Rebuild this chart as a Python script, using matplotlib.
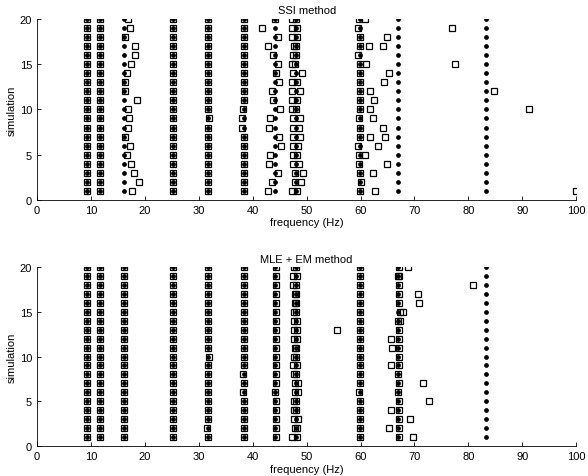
import numpy as np
import matplotlib
matplotlib.use("Agg")
import matplotlib.pyplot as plt

plt.rcParams["font.family"] = ["Liberation Sans", "DejaVu Sans"]

sims = np.arange(1, 21)

# true modal frequencies (dots), identical for every simulation
true_freqs = [9.3, 11.6, 16.1, 25.3, 31.7, 38.3, 44.2, 48.0, 59.9, 67.0, 83.3]

# ---- SSI estimates, one value per simulation (sim 1..20) ----
ssi_c1 = [9.3, 9.3, 9.3, 9.3, 9.3, 9.3, 9.3, 9.3, 9.3, 9.3,
          9.3, 9.3, 9.3, 9.3, 9.3, 9.3, 9.3, 9.3, 9.3, 9.3]
ssi_c2 = [11.6, 11.6, 11.6, 11.6, 11.6, 11.6, 11.6, 11.6, 11.7, 11.6,
          11.6, 11.6, 11.6, 11.6, 11.6, 11.6, 11.6, 11.6, 11.6, 11.6]
ssi_c3 = [17.7, 18.9, 17.9, 17.4, 16.7, 17.2, 16.4, 16.9, 17.1, 16.9,
          18.6, 16.3, 16.3, 16.7, 17.5, 18.2, 18.1, 16.3, 17.3, 16.9]
ssi_c4 = [25.3, 25.3, 25.3, 25.3, 25.3, 25.3, 25.3, 25.3, 25.3, 25.3,
          25.3, 25.3, 25.3, 25.3, 25.3, 25.3, 25.3, 25.3, 25.3, 25.3]
ssi_c5 = [31.7, 31.7, 31.7, 31.7, 31.7, 31.7, 31.7, 31.7, 31.8, 31.7,
          31.7, 31.7, 31.7, 31.7, 31.7, 31.7, 31.7, 31.7, 31.7, 31.7]
ssi_c6 = [38.3, 38.4, 38.3, 38.3, 38.3, 38.3, 38.3, 38.0, 38.0, 38.2,
          38.3, 38.3, 38.3, 38.3, 38.3, 38.3, 38.3, 38.3, 38.3, 38.3]
ssi_c7 = [42.8, 43.5, 44.6, 43.0, 43.2, 45.3, 44.9, 43.0, 43.2, 45.1,
          43.7, 43.5, 44.9, 44.3, 44.7, 43.7, 42.8, 44.6, 41.7, 44.2]
ssi_c8a = [47.26, 47.75, 47.87, 47.44, 47.44, 47.44, 47.56, 47.44, 47.44, 47.26,
           47.3, 47.26, 47.26, 47.56, 47.26, 47.44, 47.69, 47.26, 47.26, 47.26]
ssi_c8b = [48.18, 48.93, 49.3, 48.49, 48.18, 48.31, 48.68, 48.49, 48.68, 48.06,
           48.18, 48.68, 48.18, 49.11, 47.87, 48.06, 48.0, 48.18, 48.18, 48.06]
ssi_c9 = [59.9, 60.0, 59.9, 59.8, 59.75, 59.6, 59.9, 59.9, 59.8, 59.9,
          59.9, 59.9, 59.9, 59.9, 59.9, 59.6, 59.9, 59.9, 59.6, 59.8]
# spurious SSI estimates: (simulation, frequency)
ssi_extra_sim = [20, 19, 18, 17, 17, 15, 15, 14, 13, 12, 12, 11, 10, 10,
                 9, 8, 7, 7, 6, 5, 4, 3, 1, 1]
ssi_extra_freq = [60.9, 77.0, 64.9, 61.5, 64.1, 61.1, 77.6, 65.2, 64.3, 61.8, 84.7, 62.4, 61.7, 91.3,
                  62.3, 64.2, 61.7, 64.5, 63.2, 60.9, 64.9, 62.3, 62.6, 100.0]

# ---- MLE + EM estimates ----
mle_c1 = [9.3, 9.3, 9.3, 9.3, 9.3, 9.3, 9.3, 9.3, 9.3, 9.3,
          9.3, 9.3, 9.3, 9.3, 9.3, 9.3, 9.3, 9.3, 9.3, 9.3]
mle_c2 = [11.6, 11.6, 11.6, 11.6, 11.6, 11.6, 11.6, 11.6, 11.6, 11.6,
          11.6, 11.6, 11.6, 11.6, 11.6, 11.6, 11.6, 11.6, 11.6, 11.6]
mle_c3 = [16.2, 16.2, 16.2, 16.2, 16.2, 16.2, 16.2, 16.2, 16.2, 16.2,
          16.2, 16.2, 16.2, 16.2, 16.2, 16.2, 16.1, 16.2, 16.2, 16.2]
mle_c4 = [25.3, 25.3, 25.3, 25.3, 25.3, 25.3, 25.3, 25.3, 25.3, 25.3,
          25.2, 25.3, 25.3, 25.3, 25.3, 25.3, 25.3, 25.3, 25.3, 25.3]
mle_c5 = [31.7, 31.6, 31.7, 31.7, 31.7, 31.7, 31.7, 31.7, 31.7, 31.8,
          31.7, 31.7, 31.7, 31.7, 31.7, 31.7, 31.7, 31.7, 31.7, 31.7]
mle_c6 = [38.3, 38.3, 38.3, 38.3, 38.3, 38.2, 38.3, 38.2, 38.3, 38.3,
          38.3, 38.3, 38.3, 38.3, 38.3, 38.4, 38.3, 38.3, 38.3, 38.3]
mle_c7 = [44.3, 44.3, 44.3, 44.3, 44.3, 44.2, 44.3, 44.3, 44.3, 44.3,
          44.3, 44.3, 44.3, 44.3, 44.3, 44.3, 44.3, 44.3, 44.3, 44.3]
mle_c8a = [47.3, 47.8, 47.6, 47.7, 47.6, 47.8, 47.8, 47.6, 47.5, 47.7,
           47.8, 47.7, 47.6, 47.6, 47.7, 47.8, 47.8, 47.5, 47.5, 47.7]
mle_c8b = [48.3, 48.2, 48.4, 48.0, 48.0, 48.4, 48.4, 48.1, 48.2, 48.0,
           48.0, 48.2, 48.2, 48.2, 48.1, 48.0, 48.0, 48.1, 48.2, 48.0]
mle_c9 = [59.9, 59.9, 59.9, 59.9, 59.9, 59.8, 59.9, 59.9, 59.9, 59.9,
          59.9, 59.9, 59.9, 59.9, 59.9, 59.9, 59.9, 59.9, 59.9, 59.9]
mle_c10 = [67.06, 67.06, 67.06, 67.06, 67.2, 66.95, 67.2, 66.95, 67.06, 67.1,
           67.06, 67.06, 67.06, 66.9, 67.25, 67.06, 67.06, 67.06, 66.9, 67.06]
mle_extra_sim = [20, 19, 18, 17, 16, 15, 14, 13, 12, 11, 9, 7, 5, 4, 3, 2, 1]
mle_extra_freq = [68.8, 67.2, 80.9, 70.7, 70.9, 67.8, 67.3, 55.7, 65.7, 65.8,
                  65.7, 71.6, 72.6, 65.7, 69.2, 65.2, 69.7]

ssi_cols = [ssi_c1, ssi_c2, ssi_c3, ssi_c4, ssi_c5, ssi_c6, ssi_c7,
            ssi_c8a, ssi_c8b, ssi_c9]
mle_cols = [mle_c1, mle_c2, mle_c3, mle_c4, mle_c5, mle_c6, mle_c7,
            mle_c8a, mle_c8b, mle_c9, mle_c10]


def panel(ax, cols, extra_sim, extra_freq, title):
    for f in true_freqs:
        ax.plot(np.full(len(sims), f), sims, ls="none", marker="o", ms=2.4,
                color="black", mec="black", zorder=3)
    sq = dict(ls="none", marker="s", ms=5.0, mfc="none", mec="black", mew=0.9, zorder=2)
    for c in cols:
        ax.plot(c, sims, **sq)
    ax.plot(extra_freq, extra_sim, **sq)
    ax.set_xlim(0, 100)
    ax.set_ylim(0, 20)
    ax.set_xticks(range(0, 101, 10))
    ax.set_yticks([0, 5, 10, 15, 20])
    ax.spines["top"].set_visible(False)
    ax.spines["right"].set_visible(False)
    ax.tick_params(direction="in", length=3, labelsize=8, width=0.6)
    for s in ("left", "bottom"):
        ax.spines[s].set_linewidth(0.6)
    ax.set_title(title, fontsize=8, pad=4)
    ax.set_xlabel("frequency (Hz)", fontsize=8, labelpad=2)
    ax.set_ylabel("simulation", fontsize=8, labelpad=2)


fig = plt.figure(figsize=(5.88, 4.77), dpi=100)
ax1 = fig.add_axes([0.063, 0.579, 0.917, 0.379])
ax2 = fig.add_axes([0.063, 0.063, 0.917, 0.375])
panel(ax1, ssi_cols, ssi_extra_sim, ssi_extra_freq, "SSI method")
panel(ax2, mle_cols, mle_extra_sim, mle_extra_freq, "MLE + EM method")
fig.savefig("out.png", dpi=100)
